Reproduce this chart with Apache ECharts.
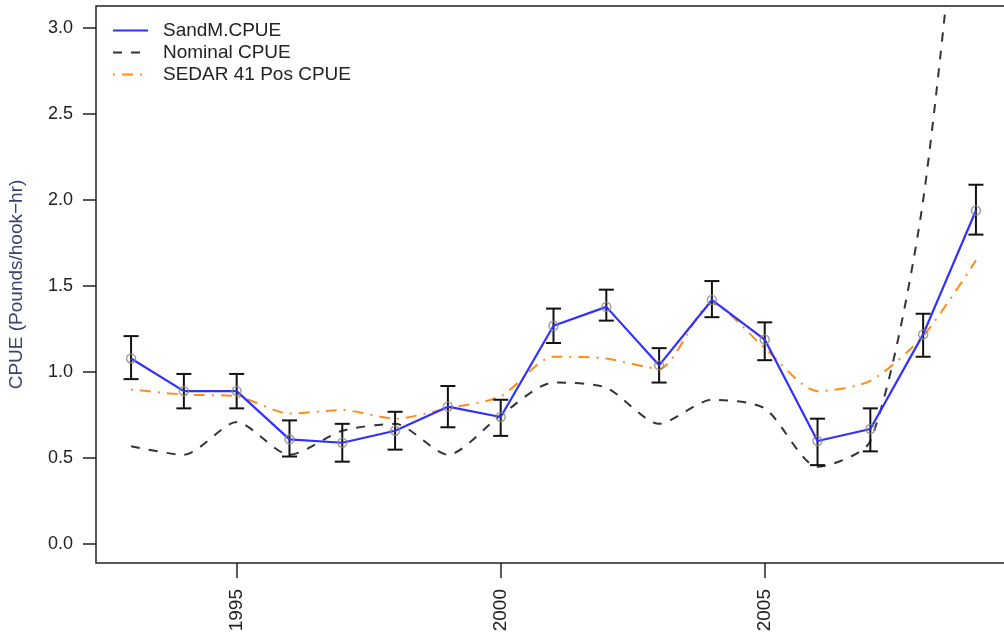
<!DOCTYPE html>
<html>
<head>
<meta charset="utf-8">
<script src="https://cdn.jsdelivr.net/npm/echarts@6/dist/echarts.min.js"></script>
<style>
html,body{margin:0;padding:0;background:#fff;}
#chart{width:1004px;height:634px;}
</style>
</head>
<body>
<div id="chart"></div>
<script>
const years = [1993,1994,1995,1996,1997,1998,1999,2000,2001,2002,2003,2004,2005,2006,2007,2008,2009];
const sandmCPUE = [1.08,0.89,0.89,0.61,0.59,0.66,0.80,0.74,1.27,1.38,1.04,1.42,1.19,0.60,0.67,1.22,1.94];
const sandmUpper = [1.21,0.99,0.99,0.72,0.70,0.77,0.92,0.84,1.37,1.48,1.14,1.53,1.29,0.73,0.79,1.34,2.09];
const sandmLower = [0.96,0.79,0.79,0.51,0.48,0.55,0.68,0.63,1.17,1.30,0.94,1.32,1.07,0.46,0.54,1.09,1.80];
const nominalCPUE = [0.57,0.52,0.71,0.52,0.66,0.70,0.52,0.75,0.94,0.91,0.70,0.84,0.79,0.45,0.60,2.00,4.90];
const sedarCPUE = [0.90,0.87,0.86,0.76,0.78,0.73,0.79,0.86,1.09,1.08,1.02,1.40,1.14,0.89,0.95,1.21,1.65];
const xTicks = [1995,2000,2005];
const yTicks = [0,0.5,1.0,1.5,2.0,2.5,3.0];
const seriesNames = ['SandM.CPUE','Nominal CPUE','SEDAR 41 Pos CPUE'];
const yTitle = 'CPUE (Pounds/hook\u2212hr)';

const FONT = '"Liberation Sans", Arial, Helvetica, sans-serif';
const pair = arr => years.map((y,i)=>[y, arr[i]]);

const chart = echarts.init(document.getElementById('chart'), null, {renderer:'canvas'});
chart.setOption({
  animation: false,
  backgroundColor: '#fff',
  grid: {left: 96, top: 6, width: 915, height: 557, outerBoundsMode: 'none', containLabel: false,
         show: true, borderColor: '#222', borderWidth: 1.5, backgroundColor: 'transparent'},
  legend: {
    orient: 'vertical', left: 107, top: 16, itemWidth: 35, itemHeight: 2, itemGap: 3,
    data: seriesNames,
    itemStyle: {opacity: 0},
    textStyle: {fontFamily: FONT, fontSize: 19, color: '#222', padding: [0,0,0,10]},
    selectedMode: false
  },
  xAxis: {
    type: 'value', min: 1992.336, max: 2009.664,
    axisLine: {show: false, onZero: false},
    axisTick: {show: true, customValues: xTicks, length: 15, lineStyle: {color: '#222', width: 1.5}},
    axisLabel: {customValues: xTicks, rotate: 90, margin: 26, fontFamily: FONT, fontSize: 19, color: '#222',
                formatter: v => String(Math.round(v))},
    splitLine: {show: false}
  },
  yAxis: {
    type: 'value', min: -0.109, max: 3.129,
    name: yTitle, nameLocation: 'middle', nameRotate: 90, nameGap: 70,
    nameTextStyle: {fontFamily: FONT, fontSize: 19, color: '#3c4070'},
    axisLine: {show: false, onZero: false},
    axisTick: {show: true, customValues: yTicks, length: 13, lineStyle: {color: '#222', width: 1.5}},
    axisLabel: {customValues: yTicks, margin: 23, fontFamily: FONT, fontSize: 18, color: '#222', formatter: v => v.toFixed(1)},
    splitLine: {show: false}
  },
  series: [
    {
      name: 'Nominal CPUE', type: 'line', data: pair(nominalCPUE), symbol: 'none', smooth: 0.25,
      lineStyle: {color: '#333', width: 2, type: [9,9]}, itemStyle: {color: '#333'}, z: 2
    },
    {
      name: 'SEDAR 41 Pos CPUE', type: 'line', data: pair(sedarCPUE), symbol: 'none', smooth: 0.25,
      lineStyle: {color: '#ff8c1a', width: 2, type: [2,7,11,7]}, itemStyle: {color: '#ff8c1a'}, z: 3
    },
    {
      name: 'errorbars', type: 'custom', data: years.map((y,i)=>[y, sandmLower[i], sandmUpper[i]]),
      encode: {x: 0, y: [1,2]}, z: 4,
      renderItem: function(params, api){
        const x = api.value(0);
        const pLo = api.coord([x, api.value(1)]);
        const pHi = api.coord([x, api.value(2)]);
        const w = 7.5;
        const style = {stroke: '#111', lineWidth: 2};
        return {type: 'group', children: [
          {type: 'line', shape: {x1: pLo[0], y1: pLo[1], x2: pHi[0], y2: pHi[1]}, style: style},
          {type: 'line', shape: {x1: pLo[0]-w, y1: pLo[1], x2: pLo[0]+w, y2: pLo[1]}, style: style},
          {type: 'line', shape: {x1: pHi[0]-w, y1: pHi[1], x2: pHi[0]+w, y2: pHi[1]}, style: style}
        ]};
      }
    },
    {
      name: 'SandM.CPUE', type: 'line', data: pair(sandmCPUE), symbol: 'none',
      lineStyle: {color: '#2f2fff', width: 2.2}, itemStyle: {color: '#2f2fff'}, z: 5
    },
    {
      name: 'points', type: 'scatter', data: pair(sandmCPUE), symbol: 'circle', symbolSize: 9,
      itemStyle: {color: 'rgba(0,0,0,0)', borderColor: '#8a8a8a', borderWidth: 1.5}, z: 6
    }
  ]
});
</script>
</body>
</html>
